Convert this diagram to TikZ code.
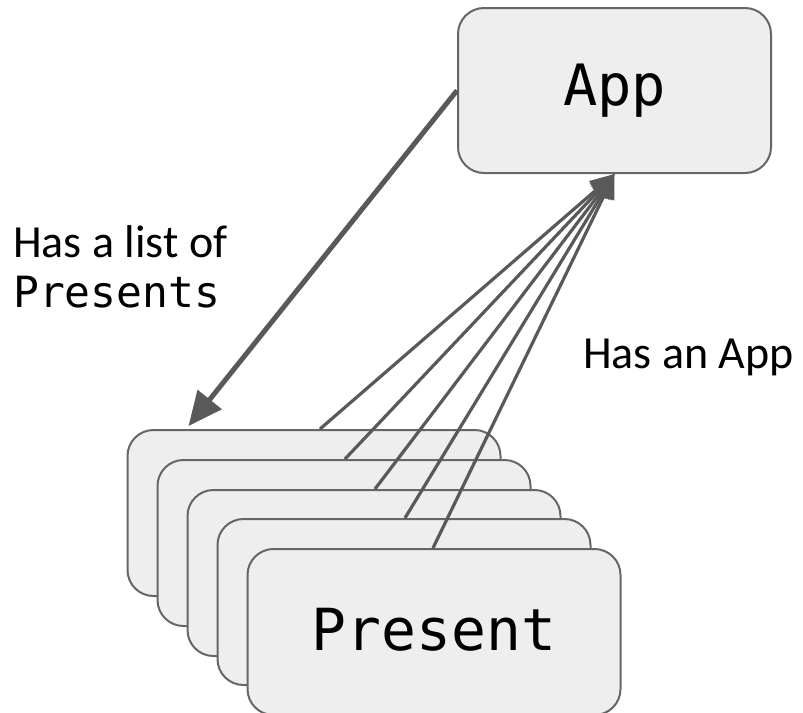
\documentclass[tikz,border=0pt]{standalone}
\usepackage{fontspec}
\setmainfont{Carlito}
\newfontfamily\monofont{DejaVu Sans Mono}
\usetikzlibrary{arrows.meta}
\definecolor{linegray}{HTML}{595959}
\definecolor{boxline}{HTML}{666666}
\definecolor{boxfill}{HTML}{EEEEEE}
\tikzset{
  objbox/.style={draw=boxline, fill=boxfill, line width=2pt, rounded corners=26pt,
    inner sep=0pt, minimum width=373pt, minimum height=166pt},
  appbox/.style={objbox, minimum width=313pt, minimum height=165pt},
  boxtext/.style={font=\monofont\fontsize{57}{60}\selectfont},
  bigtext/.style={font=\monofont\fontsize{58}{60}\selectfont},
  label/.style={font=\fontsize{46}{50}\selectfont, inner sep=0pt, anchor=base west},
  monolabel/.style={font=\monofont\fontsize{43}{46}\selectfont, inner sep=0pt, anchor=base west},
  ref/.style={draw=linegray, line width=3.2pt, -{Triangle[length=24pt,width=22pt]}},
  listref/.style={draw=linegray, line width=5pt, -{Triangle[length=34pt,width=30pt]}}
}
\begin{document}
\begin{tikzpicture}[x=1pt,y=-1pt]
  \useasboundingbox (0,0) rectangle (803,712);

  % the App object
  \node[appbox] (app) at (614.5,90.5) {};
  \node[boxtext] (apptext) at (app.center) {App};

  % the stack of Present objects, back to front
  \node[objbox] (p1) at (314,513) {};
  \node[objbox] (p2) at (344,543) {};
  \node[objbox] (p3) at (374,573) {};
  \node[objbox] (p4) at (404,602) {};
  \node[objbox] (p5) at (434,632) {};
  \node[bigtext] (ptext) at ([yshift=2pt]p5.center) {Present};

  % App -> list of Presents
  \draw[listref] (app.west) -- ([xshift=62pt,yshift=3pt]p1.north west);

  % every Present points back to the App
  \draw[ref] ([xshift=6pt]p1.north) -- (app.south);
  \draw[ref] ([xshift=1pt]p2.north) -- (app.south);
  \draw[ref] ([xshift=1pt]p3.north) -- (app.south);
  \draw[ref] ([xshift=1pt]p4.north) -- (app.south);
  \draw[ref] ([xshift=-1pt]p5.north) -- (app.south);

  % labels
  \node[label] (l1) at (13,257) {Has a list of};
  \node[monolabel] (l2) at (13,307) {Presents};
  \node[label] (l3) at (583,368) {Has an App};
\end{tikzpicture}
\end{document}
